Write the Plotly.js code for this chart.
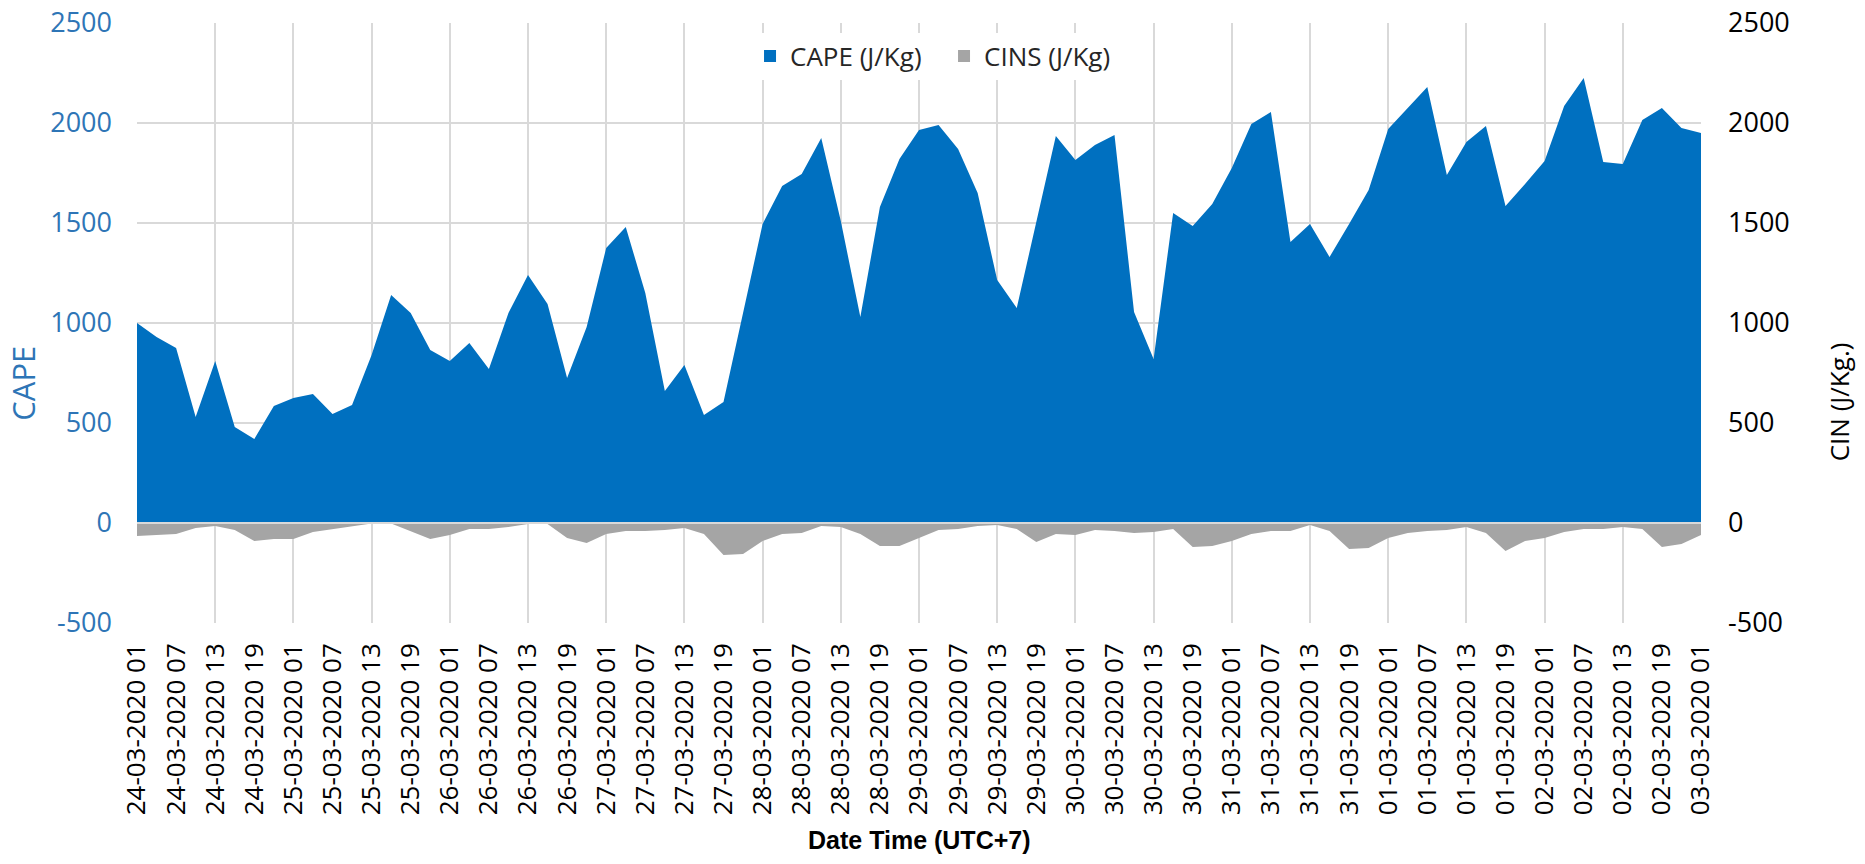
<!DOCTYPE html>
<html>
<head>
<meta charset="utf-8">
<script src="https://cdn.plot.ly/plotly-3.0.1.min.js"></script>
<style>
html,body{margin:0;padding:0;background:#ffffff;}
#chart{width:1865px;height:864px;}
</style>
</head>
<body>
<div id="chart"></div>
<script>
// ---- data ----
const days = ['24-03-2020','25-03-2020','26-03-2020','27-03-2020','28-03-2020',
              '29-03-2020','30-03-2020','31-03-2020','01-03-2020','02-03-2020'];
const hours = ['01','04','07','10','13','16','19','22'];
const lastCategory = '03-03-2020 01';

const cape = [
  1000, 930, 875, 530, 810, 480, 420, 585, 625, 645,
  545, 590, 840, 1140, 1050, 865, 810, 900, 770, 1050,
  1240, 1095, 725, 980, 1375, 1480, 1150, 660, 790, 540,
  605, 1050, 1495, 1685, 1745, 1925, 1510, 1030, 1580, 1820,
  1965, 1990, 1870, 1650, 1215, 1075, 1500, 1935, 1815, 1890,
  1940, 1055, 820, 1550, 1485, 1595, 1775, 1995, 2055, 1405,
  1495, 1330, 1495, 1665, 1970, 2075, 2180, 1740, 1905, 1985,
  1585, 1695, 1810, 2085, 2225, 1805, 1795, 2015, 2075, 1975,
  1950
];
const cins = [
  -65, -60, -55, -25, -15, -35, -90, -80, -80, -45,
  -30, -15, -3, -3, -40, -80, -60, -30, -30, -20,
  -5, -5, -75, -100, -55, -40, -40, -35, -25, -55,
  -160, -155, -90, -55, -50, -15, -20, -55, -115, -115,
  -75, -35, -30, -15, -10, -30, -95, -55, -60, -35,
  -40, -50, -45, -30, -120, -115, -90, -55, -40, -40,
  -10, -40, -130, -125, -75, -50, -40, -35, -20, -50,
  -140, -90, -75, -45, -30, -30, -20, -30, -120, -105,
  -60
];
const yTicks = [-500, 0, 500, 1000, 1500, 2000, 2500];
const seriesNames = ['CAPE (J/Kg)', 'CINS (J/Kg)'];
const seriesColors = ['#0070C0', '#A5A5A5'];

// ---- build categories ----
const categories = [];
days.forEach(d => hours.forEach(h => categories.push(d + ' ' + h)));
categories.push(lastCategory);
const labelCats = categories.filter((c, i) => i % 2 === 0);
const gridCats = categories.filter((c, i) => i % 4 === 0);
const yTickText = yTicks.map(v => String(v));

const FONT = 'Open Sans, DejaVu Sans, sans-serif';
const GRID = '#d9d9d9';
const BLUE_TXT = '#2E75B6';

const traces = [
  {
    x: categories, y: cape, name: seriesNames[0], showlegend: false,
    type: 'scatter', mode: 'lines', fill: 'tozeroy',
    fillcolor: seriesColors[0], line: {width: 0, color: seriesColors[0]},
    xaxis: 'x', yaxis: 'y'
  },
  {
    x: categories, y: cins, name: seriesNames[1], showlegend: false,
    type: 'scatter', mode: 'lines', fill: 'tozeroy',
    fillcolor: seriesColors[1], line: {width: 0, color: seriesColors[1]},
    xaxis: 'x2', yaxis: 'y2'
  },
  // legend keys only (square swatches as in the original); value null -> nothing drawn
  {x: [categories[0]], y: [null], type: 'bar', name: seriesNames[0], showlegend: true,
   marker: {color: seriesColors[0]}, xaxis: 'x', yaxis: 'y'},
  {x: [categories[0]], y: [null], type: 'bar', name: seriesNames[1], showlegend: true,
   marker: {color: seriesColors[1]}, xaxis: 'x', yaxis: 'y'}
];

const layout = {
  width: 1865, height: 864,
  margin: {l: 137.3, r: 164, t: 23.3, b: 240.7, pad: 0},
  paper_bgcolor: '#ffffff', plot_bgcolor: '#ffffff',
  font: {family: FONT, color: '#000000'},
  showlegend: true,
  legend: {
    orientation: 'h', x: 0.516, xanchor: 'center', y: 0.945, yanchor: 'middle',
    bgcolor: '#ffffff', font: {family: FONT, size: 26, color: '#262626'},
    itemwidth: 30, entrywidth: 149, entrywidthmode: 'pixels', traceorder: 'normal'
  },
  xaxis: {
    type: 'category', range: [0, categories.length - 1],
    tickmode: 'array', tickvals: labelCats, ticktext: labelCats,
    tickangle: -90, tickfont: {family: FONT, size: 26, color: '#000000'},
    showgrid: false, zeroline: false, showline: false, ticks: '',
    ticklabelstandoff: 14
  },
  xaxis2: {
    overlaying: 'x', anchor: 'y2', type: 'category',
    range: [0, categories.length - 1],
    tickmode: 'array', tickvals: gridCats,
    showgrid: true, gridcolor: GRID, gridwidth: 2,
    showticklabels: false, ticks: '', zeroline: false, showline: false
  },
  yaxis: {
    range: [-500, 2500], tickmode: 'array', tickvals: yTicks, ticktext: yTickText,
    showgrid: true, gridcolor: GRID, gridwidth: 2,
    zeroline: true, zerolinecolor: GRID, zerolinewidth: 2, zerolinelayer: 'above traces',
    showline: false, ticks: '',
    tickfont: {family: FONT, size: 27, color: BLUE_TXT},
    ticklabelstandoff: 24
  },
  yaxis2: {
    overlaying: 'y', side: 'right', anchor: 'x',
    range: [-500, 2500], tickmode: 'array', tickvals: yTicks, ticktext: yTickText,
    showgrid: false, zeroline: false, showline: false, ticks: '',
    tickfont: {family: FONT, size: 27, color: '#000000'},
    ticklabelstandoff: 26
  },
  annotations: [
    {text: 'CAPE', xref: 'paper', yref: 'paper', x: -0.0731, y: 0.400,
     xanchor: 'center', yanchor: 'middle', textangle: -90, showarrow: false,
     font: {family: FONT, size: 31, color: BLUE_TXT}},
    {text: 'CIN (J/Kg.)', xref: 'paper', yref: 'paper', x: 1.0883, y: 0.368,
     xanchor: 'center', yanchor: 'middle', textangle: -90, showarrow: false,
     font: {family: FONT, size: 26, color: '#000000'}},
    {text: '<b>Date Time (UTC+7)</b>', xref: 'paper', yref: 'paper', x: 0.5005, y: -0.362,
     xanchor: 'center', yanchor: 'middle', showarrow: false,
     font: {family: 'Liberation Sans, Arial, sans-serif', size: 25, color: '#000000'}}
  ],
  hovermode: false
};

Plotly.newPlot('chart', traces, layout, {staticPlot: true, displayModeBar: false});
</script>
</body>
</html>
